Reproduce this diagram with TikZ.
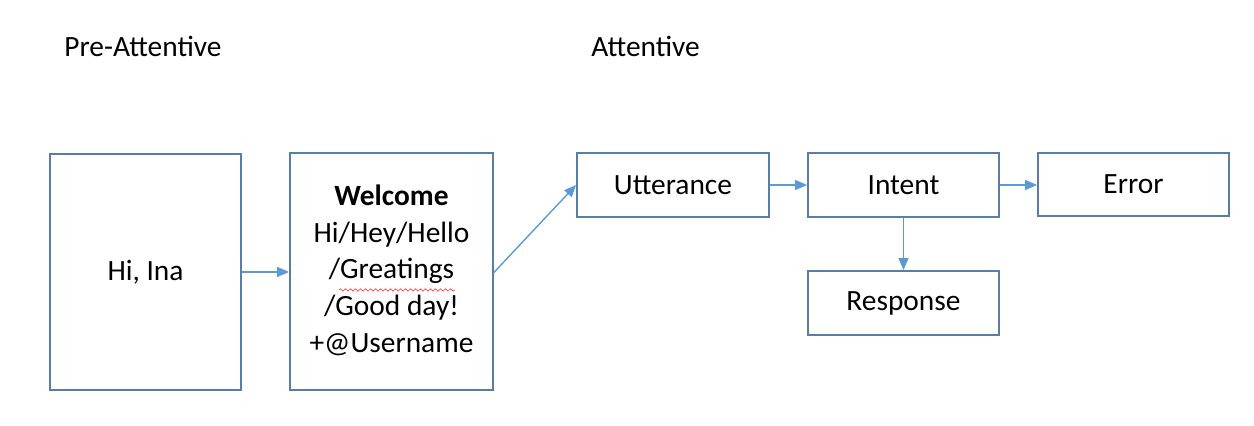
\documentclass[tikz,border=0pt]{standalone}
\usepackage{fontspec}
\setmainfont{Carlito}
\usetikzlibrary{arrows.meta,decorations.pathmorphing}
\definecolor{boxc}{HTML}{5A7DA3}
\definecolor{arrc}{HTML}{5B9BD5}
\begin{document}
\begin{tikzpicture}[x=0.5pt,y=-0.5pt,
  box/.style={draw=boxc,line width=0.9pt,fill=white,inner sep=0pt,align=center,font=\fontsize{14.7}{18.3}\selectfont},
  conn/.style={draw=arrc,line width=0.7pt,-{Triangle[length=6pt,width=5pt]}},
  lbl/.style={font=\fontsize{14.7}{18}\selectfont,anchor=base west,inner sep=0pt}]
\useasboundingbox (0,0) rectangle (1254,426);
\node[box,minimum width=191pt*0.5,minimum height=236pt*0.5] (hi) at (145.5,272) {\raisebox{-1pt}{Hi, Ina}};
\node[box,minimum width=203pt*0.5,minimum height=237pt*0.5] (wel) at (391.5,271.5) {\raisebox{-1.5pt}{\setlength{\tabcolsep}{0pt}\begin{tabular}{c}\textbf{Welcome}\\Hi/Hey/Hello\\/Greatings\\/Good day!\\+@Username\end{tabular}}};
\node[box,minimum width=192pt*0.5,minimum height=64pt*0.5] (utt) at (673,185) {\raisebox{-1pt}{Utterance}};
\node[box,minimum width=191pt*0.5,minimum height=64pt*0.5] (int) at (903.5,185) {\raisebox{-1pt}{Intent}};
\node[box,minimum width=191pt*0.5,minimum height=63pt*0.5] (err) at (1133.5,184.5) {\raisebox{-1pt}{Error}};
\node[box,minimum width=191pt*0.5,minimum height=64pt*0.5] (res) at (903.5,303) {\raisebox{-1pt}{Response}};
\node[lbl] (pre) at (64,57) {Pre-Attentive};
\node[lbl] (att) at (591,57) {Attentive};
\draw[conn] (hi.east) -- (wel.west|-hi.east);
\draw[conn] ([yshift=-0.5pt]wel.east) -- (utt.west);
\draw[conn] (utt.east) -- (int.west);
\draw[conn] (int.east) -- (err.west|-int.east);
\draw[conn] (int.south) -- (res.north);
\coordinate (sq1) at (339,290);
\coordinate (sq2) at (455,290);
\draw[red!80,line width=0.3pt,decorate,decoration={snake,amplitude=0.6pt,segment length=2.5pt}] (sq1) -- (sq2);
\end{tikzpicture}
\end{document}
